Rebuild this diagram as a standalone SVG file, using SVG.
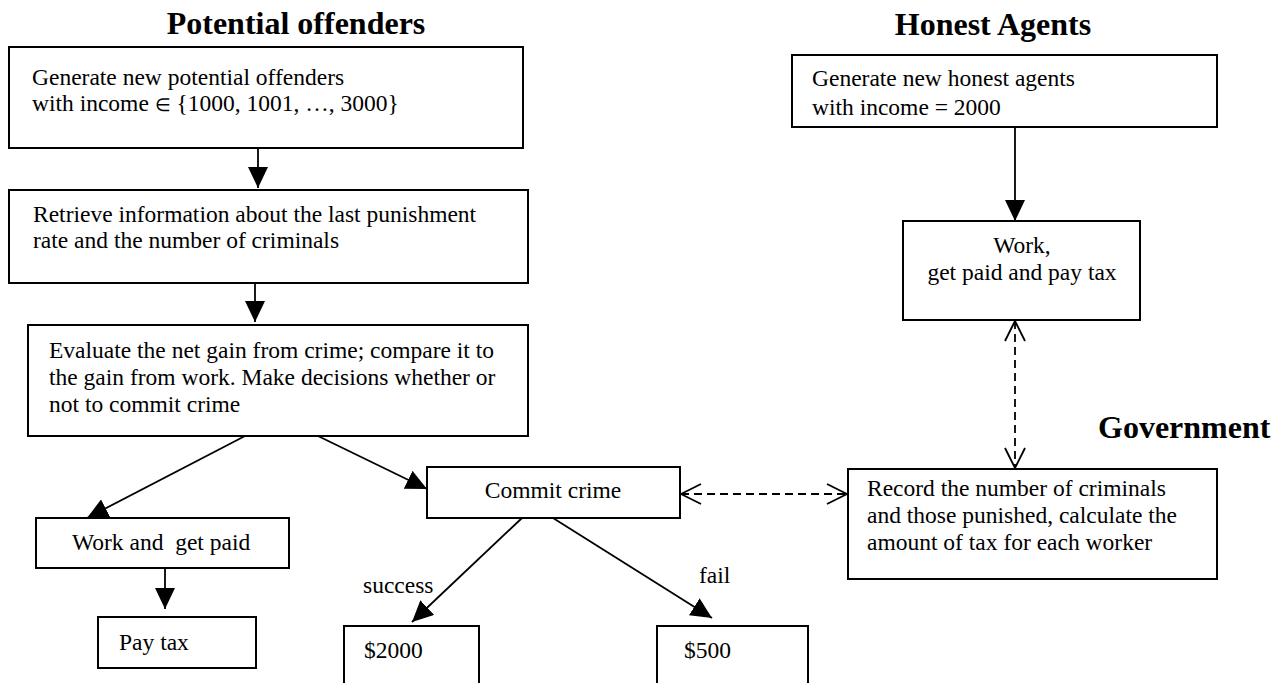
<svg xmlns="http://www.w3.org/2000/svg" width="1282" height="683" viewBox="0 0 1282 683">
<defs>
<style>
.box{fill:#fff;stroke:#000;stroke-width:2}
.t{font-family:"Liberation Serif","Times New Roman",serif;font-size:23.5px;fill:#000}
.h{font-family:"Liberation Serif","Times New Roman",serif;font-size:32px;font-weight:bold;fill:#000}
.c{text-anchor:middle}
.ln{stroke:#000;stroke-width:1.8;fill:none}
.ds{stroke:#000;stroke-width:1.8;fill:none;stroke-dasharray:8 5}
</style>
<marker id="fa" markerUnits="userSpaceOnUse" viewBox="0 0 21 20" refX="21" refY="10" markerWidth="21" markerHeight="20" orient="auto">
<path d="M0,0 L21,10 L0,20 z" fill="#000"/>
</marker>
<marker id="oa" markerUnits="userSpaceOnUse" viewBox="-1 -1 23 22" refX="20" refY="10" markerWidth="23" markerHeight="22" orient="auto-start-reverse">
<path d="M0,0 L20,10 L0,20" fill="none" stroke="#000" stroke-width="1.8"/>
</marker>
</defs>
<rect width="1282" height="683" fill="#fff"/>

<g id="titles">
<text class="h c" x="296" y="34">Potential offenders</text>
<text class="h c" x="993" y="35">Honest Agents</text>
<text class="h" x="1098" y="438">Government</text>
</g>

<g id="connectors">
<line class="ln" x1="258" y1="148" x2="258" y2="188" marker-end="url(#fa)"/>
<line class="ln" x1="255" y1="283" x2="255" y2="322" marker-end="url(#fa)"/>
<line class="ln" x1="245" y1="436" x2="87" y2="518" marker-end="url(#fa)"/>
<line class="ln" x1="318" y1="436" x2="427" y2="489" marker-end="url(#fa)"/>
<line class="ln" x1="165" y1="568" x2="165" y2="609" marker-end="url(#fa)"/>
<line class="ln" x1="522" y1="518" x2="412" y2="622" marker-end="url(#fa)"/>
<line class="ln" x1="553" y1="518" x2="712" y2="618" marker-end="url(#fa)"/>
<line class="ln" x1="1015" y1="127" x2="1015" y2="221" marker-end="url(#fa)"/>
<line class="ds" x1="681" y1="494" x2="847" y2="494" marker-start="url(#oa)" marker-end="url(#oa)"/>
<line class="ds" x1="1015" y1="321" x2="1015" y2="468" marker-start="url(#oa)" marker-end="url(#oa)"/>
</g>

<g id="gen-offenders">
<rect class="box" x="9" y="47" width="514" height="101"/>
<text class="t" x="32" y="85">Generate new potential offenders</text>
<text class="t" x="32" y="111">with income <tspan font-size="18">∈</tspan> {1000, 1001, …, 3000}</text>
</g>

<g id="retrieve">
<rect class="box" x="9" y="190" width="519" height="93"/>
<text class="t" x="33" y="222">Retrieve information about the last punishment</text>
<text class="t" x="33" y="248">rate and the number of criminals</text>
</g>

<g id="evaluate">
<rect class="box" x="28" y="325" width="500" height="111"/>
<text class="t" x="49" y="358">Evaluate the net gain from crime; compare it to</text>
<text class="t" x="49" y="385">the gain from work. Make decisions whether or</text>
<text class="t" x="49" y="412">not to commit crime</text>
</g>

<g id="work-paid">
<rect class="box" x="36" y="518" width="253" height="50"/>
<text class="t" x="72" y="550" xml:space="preserve">Work and  get paid</text>
</g>

<g id="pay-tax">
<rect class="box" x="98" y="617" width="158" height="51"/>
<text class="t" x="119" y="650">Pay tax</text>
</g>

<g id="commit">
<rect class="box" x="427" y="467" width="253" height="51"/>
<text class="t c" x="553" y="498">Commit crime</text>
</g>

<g id="success-label">
<text class="t" x="363" y="593">success</text>
</g>
<g id="fail-label">
<text class="t" x="699" y="583">fail</text>
</g>

<g id="gain2000">
<rect class="box" x="344" y="626" width="135" height="70"/>
<text class="t" x="364" y="658">$2000</text>
</g>

<g id="gain500">
<rect class="box" x="657" y="626" width="151" height="70"/>
<text class="t" x="684" y="658">$500</text>
</g>

<g id="gen-honest">
<rect class="box" x="792" y="55" width="425" height="72"/>
<text class="t" x="812" y="86">Generate new honest agents</text>
<text class="t" x="812" y="115">with income = 2000</text>
</g>

<g id="work-honest">
<rect class="box" x="903" y="221" width="237" height="99"/>
<text class="t c" x="1022" y="253">Work,</text>
<text class="t c" x="1022" y="280">get paid and pay tax</text>
</g>

<g id="record">
<rect class="box" x="848" y="469" width="369" height="110"/>
<text class="t" x="867" y="496">Record the number of criminals</text>
<text class="t" x="867" y="523">and those punished, calculate the</text>
<text class="t" x="867" y="550">amount of tax for each worker</text>
</g>
</svg>
